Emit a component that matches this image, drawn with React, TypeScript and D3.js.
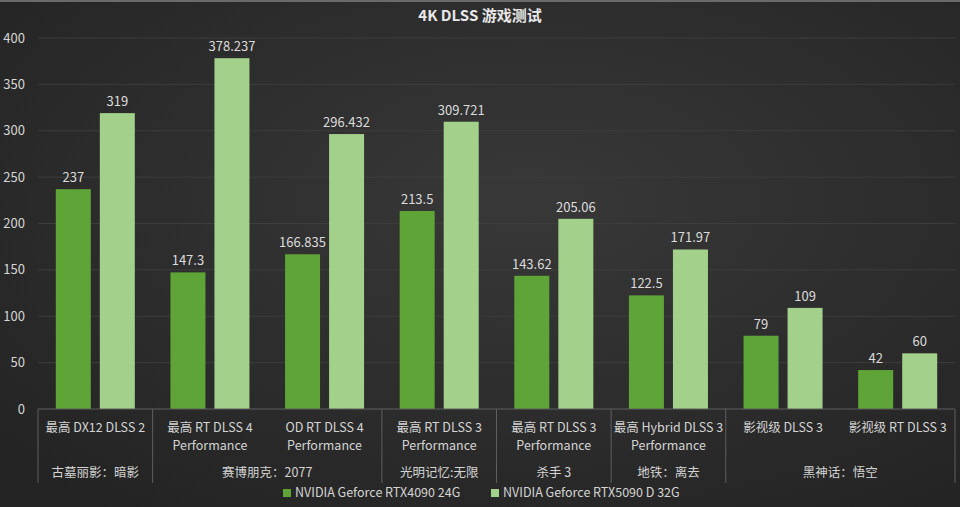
import React, { useEffect, useRef } from 'react';
import * as d3 from 'd3';

// 图表数据
const title = '4K DLSS 游戏测试';
const series = ['NVIDIA Geforce RTX4090 24G', 'NVIDIA Geforce RTX5090 D 32G'];
const settingsLine1 = [
  '最高 DX12 DLSS 2',
  '最高 RT DLSS 4',
  'OD RT DLSS 4',
  '最高 RT DLSS 3',
  '最高 RT DLSS 3',
  '最高 Hybrid DLSS 3',
  '影视级 DLSS 3',
  '影视级 RT DLSS 3',
];
const settingsLine2 = ['', 'Performance', 'Performance', 'Performance', 'Performance', 'Performance', '', ''];
const games = ['古墓丽影：暗影', '赛博朋克：2077', '光明记忆:无限', '杀手 3', '地铁：离去', '黑神话：悟空'];
const gameSpan = [1, 2, 1, 1, 1, 2];
const rtx4090 = [237, 147.3, 166.835, 213.5, 143.62, 122.5, 79, 42];
const rtx5090 = [319, 378.237, 296.432, 309.721, 205.06, 171.97, 109, 60];
const yTicks = [0, 50, 100, 150, 200, 250, 300, 350, 400];

const colors = ['#5fa436', '#a3d08a'];
const FONT = '"Noto Sans CJK SC", "Noto Sans", sans-serif';

const App: React.FC = () => {
  const svgRef = useRef<SVGSVGElement>(null);

  useEffect(() => {
    if (!svgRef.current) return;
    const svg = d3.select(svgRef.current);
    svg.selectAll('*').remove();

    const W = 960;
    const H = 507;
    const left = 38;
    const right = 955;
    const top = 38;
    const bottom = 409;

    svg.attr('width', W).attr('height', H).style('font-family', FONT);

    // 背景
    const defs = svg.append('defs');
    const grad = defs.append('radialGradient')
      .attr('id', 'bg')
      .attr('cx', '55%').attr('cy', '40%').attr('r', '75%');
    grad.append('stop').attr('offset', '0%').attr('stop-color', '#383838');
    grad.append('stop').attr('offset', '100%').attr('stop-color', '#232323');
    svg.append('rect').attr('width', W).attr('height', H).attr('fill', 'url(#bg)');
    svg.append('rect').attr('width', W).attr('height', 2).attr('fill', '#6a6a6a');

    // 比例尺
    const categories = settingsLine1.map((_, i) => String(i));
    const x0 = d3.scaleBand().domain(categories).range([left, right]).padding(0);
    const inner = 17.8;
    const x1 = d3.scaleBand().domain(series).range([inner, x0.bandwidth() - inner]).paddingInner(0.205);
    const y = d3.scaleLinear().domain([0, 400]).range([bottom, top]);

    // 网格线
    svg.append('g').selectAll('line').data(yTicks.slice(1)).join('line')
      .attr('x1', left).attr('x2', right)
      .attr('y1', d => y(d)).attr('y2', d => y(d))
      .attr('stroke', '#3d3d3d').attr('stroke-width', 1);

    // y 轴标签
    svg.append('g').selectAll('text').data(yTicks).join('text')
      .attr('x', 25).attr('y', d => y(d)).attr('dy', '0.35em')
      .attr('text-anchor', 'end')
      .attr('fill', '#d6d6d6').attr('font-size', 13)
      .text(d => d);

    // 柱子
    const valuesBySeries = [rtx4090, rtx5090];
    const groupsSel = svg.append('g').selectAll('g').data(categories).join('g')
      .attr('transform', d => `translate(${x0(d)},0)`);
    groupsSel.each(function (c, i) {
      const g = d3.select(this);
      series.forEach((s, si) => {
        const v = valuesBySeries[si][i];
        g.append('rect')
          .attr('x', x1(s)!).attr('width', x1.bandwidth())
          .attr('y', y(v)).attr('height', y(0) - y(v))
          .attr('fill', colors[si]);
        g.append('text')
          .attr('x', x1(s)! + x1.bandwidth() / 2).attr('y', y(v) - 7)
          .attr('text-anchor', 'middle')
          .attr('fill', '#dcdcdc').attr('font-size', 13)
          .text(v);
      });
    });

    // x 轴
    const axisColor = '#5e5e5e';
    svg.append('line')
      .attr('x1', left).attr('x2', right).attr('y1', bottom).attr('y2', bottom)
      .attr('stroke', axisColor);

    const labels = svg.append('g').attr('fill', '#d4d4d4').attr('font-size', 12.5).attr('text-anchor', 'middle');
    categories.forEach((c, i) => {
      const cx = x0(c)! + x0.bandwidth() / 2;
      labels.append('text').attr('x', cx).attr('y', 432).text(settingsLine1[i]);
      if (settingsLine2[i]) labels.append('text').attr('x', cx).attr('y', 450).text(settingsLine2[i]);
    });

    // 游戏分组
    let start = 0;
    const bounds: number[] = [0];
    games.forEach((game, gi) => {
      const end = start + gameSpan[gi];
      const gx0 = x0(categories[start])!;
      const gx1 = x0(categories[end - 1])! + x0.bandwidth();
      labels.append('text').attr('x', (gx0 + gx1) / 2).attr('y', 477).text(game);
      bounds.push(end);
      start = end;
    });
    svg.append('g').selectAll('line').data(bounds).join('line')
      .attr('x1', d => d < categories.length ? x0(categories[d])! : right)
      .attr('x2', d => d < categories.length ? x0(categories[d])! : right)
      .attr('y1', bottom).attr('y2', 483)
      .attr('stroke', axisColor);

    // 标题
    svg.append('text')
      .attr('x', 480).attr('y', 21)
      .attr('text-anchor', 'middle')
      .attr('fill', '#e8e8e8').attr('font-size', 15).attr('font-weight', 'bold')
      .text(title);

    // 图例
    const legendX = [283, 491];
    const legend = svg.append('g').selectAll('g').data(series).join('g')
      .attr('transform', (_, i) => `translate(${legendX[i]},489)`);
    legend.append('rect').attr('width', 8).attr('height', 8).attr('fill', (_, i) => colors[i]);
    legend.append('text')
      .attr('x', 12).attr('y', 4).attr('dy', '0.35em')
      .attr('fill', '#d4d4d4').attr('font-size', 12.5)
      .text(d => d);
  }, []);

  return <svg ref={svgRef} style={{ position: 'absolute', left: 0, top: 0 }} />;
};

export default App;
